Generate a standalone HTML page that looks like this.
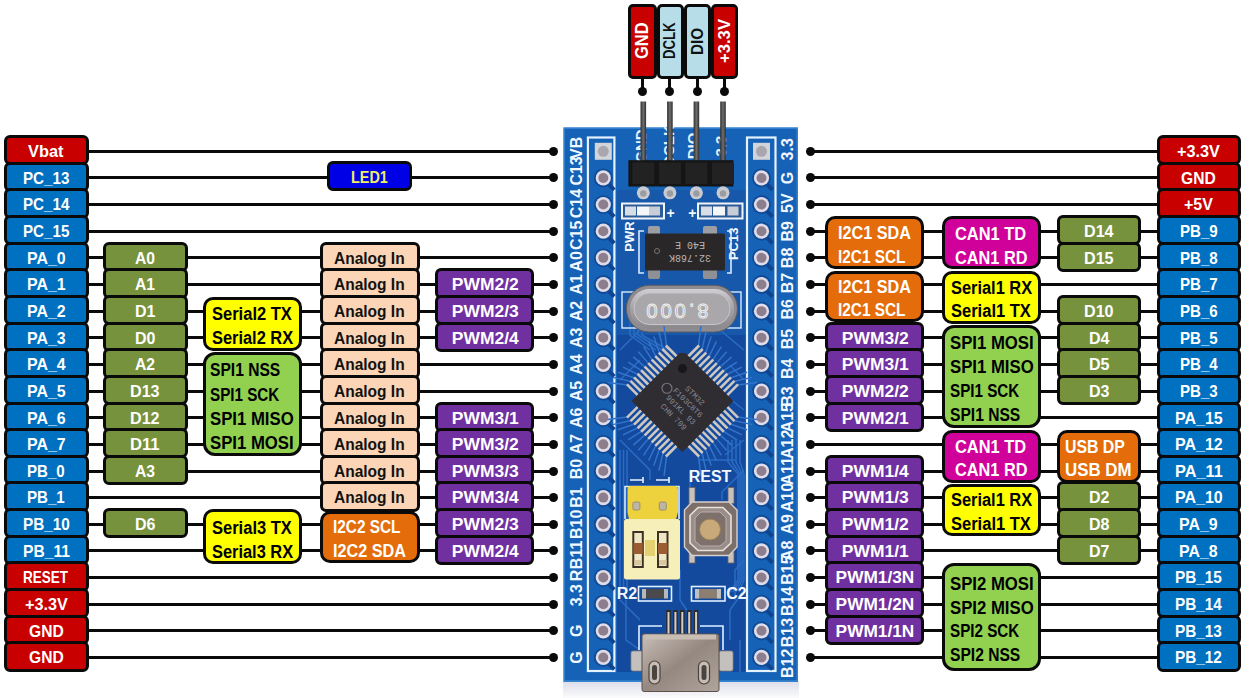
<!DOCTYPE html>
<html><head><meta charset="utf-8">
<style>
html,body{margin:0;padding:0;background:#fff;}
body{width:1249px;height:698px;position:relative;overflow:hidden;font-family:"Liberation Sans",sans-serif;}
.b{position:absolute;box-sizing:border-box;border:3.2px solid #0a0a0a;display:flex;align-items:center;justify-content:center;text-align:center;font-weight:bold;line-height:20px;white-space:nowrap;}
.ln{position:absolute;height:3px;background:#0a0a0a;}
.vln{position:absolute;width:3px;background:#0a0a0a;}
.dot{position:absolute;width:9px;height:9px;border-radius:50%;background:#0a0a0a;}
.ml{text-align:left;}

.board{position:absolute;left:0;top:0;}
.sl{font-family:"Liberation Sans",sans-serif;font-weight:bold;font-size:16px;fill:#F2F8FF;}
.sl2{font-family:"Liberation Sans",sans-serif;font-weight:bold;font-size:15px;fill:#E8F2FC;}
.sl3{font-family:"Liberation Sans",sans-serif;font-weight:bold;font-size:13px;fill:#F2F8FF;}
.sl3b{font-family:"Liberation Sans",sans-serif;font-weight:bold;font-size:14px;fill:#F2F8FF;}
.sl3c{font-family:"Liberation Sans",sans-serif;font-weight:bold;font-size:16px;fill:#F2F8FF;}
.ct{font-family:"Liberation Mono",monospace;font-size:10px;fill:#b8b4b4;}
.xt{font-family:"Liberation Sans",sans-serif;font-size:20px;letter-spacing:3px;fill:none;stroke:#f2f2f2;stroke-width:0.9;}
.mt{font-family:"Liberation Mono",monospace;font-size:8px;fill:#8a8890;}
</style></head><body>
<svg class="board" width="1249" height="698" viewBox="0 0 1249 698"><defs><linearGradient id="pin" x1="0" x2="1"><stop offset="0" stop-color="#2e2e2e"/><stop offset="0.5" stop-color="#6e6e6e"/><stop offset="1" stop-color="#2e2e2e"/></linearGradient><linearGradient id="xt" x1="0" y1="0" x2="0" y2="1"><stop offset="0" stop-color="#d0ced2"/><stop offset="0.5" stop-color="#a4a2a6"/><stop offset="1" stop-color="#8a888c"/></linearGradient><linearGradient id="usb" x1="0" y1="0" x2="1" y2="1"><stop offset="0" stop-color="#C8BEB8"/><stop offset="0.5" stop-color="#958880"/><stop offset="1" stop-color="#B0A49C"/></linearGradient><radialGradient id="hole" cx="0.5" cy="0.5" r="0.5"><stop offset="0" stop-color="#8d8894"/><stop offset="0.62" stop-color="#7f7a88"/><stop offset="0.7" stop-color="#e8eaf0"/><stop offset="0.88" stop-color="#c4c6cc"/><stop offset="1" stop-color="#8da0c0"/></radialGradient><linearGradient id="shd" x1="0" y1="0" x2="0" y2="1"><stop offset="0" stop-color="#dcdde8"/><stop offset="1" stop-color="#fbfbfd"/></linearGradient></defs><rect x="563" y="681" width="236" height="17" fill="url(#shd)"/><rect x="563.5" y="127.5" width="234.5" height="554.3" fill="#1562B6"/><rect x="564.2" y="128.2" width="233" height="552.8" fill="none" stroke="#3A8AD8" stroke-width="1.2"/><rect x="617" y="190" width="129" height="150" fill="#1758AA"/><rect x="617" y="335" width="129" height="337" fill="#134A9E"/><path d="M620 350 L650 320 L700 320" fill="none" stroke="#2A6CC4" stroke-width="1.5"/><path d="M620 380 L640 360" fill="none" stroke="#2A6CC4" stroke-width="1.5"/><path d="M620 440 L650 470 L650 480" fill="none" stroke="#2A6CC4" stroke-width="1.5"/><path d="M744 350 L720 330" fill="none" stroke="#2A6CC4" stroke-width="1.5"/><path d="M744 380 L730 365" fill="none" stroke="#2A6CC4" stroke-width="1.5"/><path d="M744 410 L725 395" fill="none" stroke="#2A6CC4" stroke-width="1.5"/><path d="M744 440 L725 455" fill="none" stroke="#2A6CC4" stroke-width="1.5"/><path d="M744 470 L722 492 L722 500" fill="none" stroke="#2A6CC4" stroke-width="1.5"/><path d="M744 560 L735 570 L735 600" fill="none" stroke="#2A6CC4" stroke-width="1.5"/><path d="M744 590 L730 610 L730 640" fill="none" stroke="#2A6CC4" stroke-width="1.5"/><path d="M620 600 L640 620" fill="none" stroke="#2A6CC4" stroke-width="1.5"/><path d="M690 470 L690 490" fill="none" stroke="#2A6CC4" stroke-width="1.5"/><path d="M700 460 L735 460" fill="none" stroke="#2A6CC4" stroke-width="1.5"/><path d="M626 600 L626 640 L640 650" fill="none" stroke="#2A6CC4" stroke-width="1.5"/><path d="M736 220 L744 212" fill="none" stroke="#2A6CC4" stroke-width="1.5"/><path d="M680 570 L680 600 L690 615" fill="none" stroke="#2A6CC4" stroke-width="1.5"/><path d="M740 640 L740 672" fill="none" stroke="#2A6CC4" stroke-width="1.5"/><path d="M620 480 L620 560" fill="none" stroke="#2A6CC4" stroke-width="1.5"/><path d="M728 440 L728 462 L738 474 L738 580 L730 592" fill="none" stroke="#2A6CC4" stroke-width="1.5"/><path d="M732 440 L732 462 L740 474 L740 580 L733 592" fill="none" stroke="#2A6CC4" stroke-width="1.5"/><path d="M736 440 L736 462 L742 474 L742 580 L736 592" fill="none" stroke="#2A6CC4" stroke-width="1.5"/><path d="M740 440 L740 462 L744 474 L744 580 L739 592" fill="none" stroke="#2A6CC4" stroke-width="1.5"/><path d="M620.0 450 L620.0 590" fill="none" stroke="#2A6CC4" stroke-width="1.5"/><path d="M623.5 450 L623.5 590" fill="none" stroke="#2A6CC4" stroke-width="1.5"/><path d="M627.0 450 L627.0 590" fill="none" stroke="#2A6CC4" stroke-width="1.5"/><path d="M650 350 L630 335 L630 320" fill="none" stroke="#2A6CC4" stroke-width="1.5"/><path d="M656 350 L634 335 L634 320" fill="none" stroke="#2A6CC4" stroke-width="1.5"/><path d="M662 350 L638 335 L638 320" fill="none" stroke="#2A6CC4" stroke-width="1.5"/><path d="M668 350 L642 335 L642 320" fill="none" stroke="#2A6CC4" stroke-width="1.5"/><rect x="587.9" y="137.5" width="26.5" height="533.5" fill="#1562B6" stroke="#E6F2FF" stroke-width="2.2"/><rect x="747" y="137.5" width="28.5" height="533.5" fill="#1562B6" stroke="#E6F2FF" stroke-width="2.2"/><rect x="594.8" y="142.8" width="17" height="17" fill="#D2D4DA"/><circle cx="603.3" cy="151.3" r="5.5" fill="#A9A6B0"/><rect x="753.0" y="142.8" width="17" height="17" fill="#D2D4DA"/><circle cx="761.5" cy="151.3" r="5.5" fill="#A9A6B0"/><path d="M606.3 181.94 L614.3 189.94" stroke="#0F4590" stroke-width="4" fill="none"/><circle cx="603.3" cy="177.94" r="9.4" fill="#0F4A96"/><circle cx="603.3" cy="177.94" r="7.6" fill="#E0DCEA"/><circle cx="603.3" cy="177.94" r="5" fill="#8C7E8C"/><path d="M764.5 181.94 L772.5 189.94" stroke="#0F4590" stroke-width="4" fill="none"/><circle cx="761.5" cy="177.94" r="9.4" fill="#0F4A96"/><circle cx="761.5" cy="177.94" r="7.6" fill="#E0DCEA"/><circle cx="761.5" cy="177.94" r="5" fill="#8C7E8C"/><path d="M606.3 208.58 L614.3 216.58" stroke="#0F4590" stroke-width="4" fill="none"/><circle cx="603.3" cy="204.58" r="9.4" fill="#0F4A96"/><circle cx="603.3" cy="204.58" r="7.6" fill="#E0DCEA"/><circle cx="603.3" cy="204.58" r="5" fill="#8C7E8C"/><path d="M764.5 208.58 L772.5 216.58" stroke="#0F4590" stroke-width="4" fill="none"/><circle cx="761.5" cy="204.58" r="9.4" fill="#0F4A96"/><circle cx="761.5" cy="204.58" r="7.6" fill="#E0DCEA"/><circle cx="761.5" cy="204.58" r="5" fill="#8C7E8C"/><path d="M606.3 235.22000000000003 L614.3 243.22000000000003" stroke="#0F4590" stroke-width="4" fill="none"/><circle cx="603.3" cy="231.22000000000003" r="9.4" fill="#0F4A96"/><circle cx="603.3" cy="231.22000000000003" r="7.6" fill="#E0DCEA"/><circle cx="603.3" cy="231.22000000000003" r="5" fill="#8C7E8C"/><path d="M764.5 235.22000000000003 L772.5 243.22000000000003" stroke="#0F4590" stroke-width="4" fill="none"/><circle cx="761.5" cy="231.22000000000003" r="9.4" fill="#0F4A96"/><circle cx="761.5" cy="231.22000000000003" r="7.6" fill="#E0DCEA"/><circle cx="761.5" cy="231.22000000000003" r="5" fill="#8C7E8C"/><path d="M606.3 261.86 L614.3 269.86" stroke="#0F4590" stroke-width="4" fill="none"/><circle cx="603.3" cy="257.86" r="9.4" fill="#0F4A96"/><circle cx="603.3" cy="257.86" r="7.6" fill="#E0DCEA"/><circle cx="603.3" cy="257.86" r="5" fill="#8C7E8C"/><path d="M764.5 261.86 L772.5 269.86" stroke="#0F4590" stroke-width="4" fill="none"/><circle cx="761.5" cy="257.86" r="9.4" fill="#0F4A96"/><circle cx="761.5" cy="257.86" r="7.6" fill="#E0DCEA"/><circle cx="761.5" cy="257.86" r="5" fill="#8C7E8C"/><path d="M606.3 288.5 L614.3 296.5" stroke="#0F4590" stroke-width="4" fill="none"/><circle cx="603.3" cy="284.5" r="9.4" fill="#0F4A96"/><circle cx="603.3" cy="284.5" r="7.6" fill="#E0DCEA"/><circle cx="603.3" cy="284.5" r="5" fill="#8C7E8C"/><path d="M764.5 288.5 L772.5 296.5" stroke="#0F4590" stroke-width="4" fill="none"/><circle cx="761.5" cy="284.5" r="9.4" fill="#0F4A96"/><circle cx="761.5" cy="284.5" r="7.6" fill="#E0DCEA"/><circle cx="761.5" cy="284.5" r="5" fill="#8C7E8C"/><path d="M606.3 315.14 L614.3 323.14" stroke="#0F4590" stroke-width="4" fill="none"/><circle cx="603.3" cy="311.14" r="9.4" fill="#0F4A96"/><circle cx="603.3" cy="311.14" r="7.6" fill="#E0DCEA"/><circle cx="603.3" cy="311.14" r="5" fill="#8C7E8C"/><path d="M764.5 315.14 L772.5 323.14" stroke="#0F4590" stroke-width="4" fill="none"/><circle cx="761.5" cy="311.14" r="9.4" fill="#0F4A96"/><circle cx="761.5" cy="311.14" r="7.6" fill="#E0DCEA"/><circle cx="761.5" cy="311.14" r="5" fill="#8C7E8C"/><path d="M606.3 341.78000000000003 L614.3 349.78000000000003" stroke="#0F4590" stroke-width="4" fill="none"/><circle cx="603.3" cy="337.78000000000003" r="9.4" fill="#0F4A96"/><circle cx="603.3" cy="337.78000000000003" r="7.6" fill="#E0DCEA"/><circle cx="603.3" cy="337.78000000000003" r="5" fill="#8C7E8C"/><path d="M764.5 341.78000000000003 L772.5 349.78000000000003" stroke="#0F4590" stroke-width="4" fill="none"/><circle cx="761.5" cy="337.78000000000003" r="9.4" fill="#0F4A96"/><circle cx="761.5" cy="337.78000000000003" r="7.6" fill="#E0DCEA"/><circle cx="761.5" cy="337.78000000000003" r="5" fill="#8C7E8C"/><path d="M606.3 368.42 L614.3 376.42" stroke="#0F4590" stroke-width="4" fill="none"/><circle cx="603.3" cy="364.42" r="9.4" fill="#0F4A96"/><circle cx="603.3" cy="364.42" r="7.6" fill="#E0DCEA"/><circle cx="603.3" cy="364.42" r="5" fill="#8C7E8C"/><path d="M764.5 368.42 L772.5 376.42" stroke="#0F4590" stroke-width="4" fill="none"/><circle cx="761.5" cy="364.42" r="9.4" fill="#0F4A96"/><circle cx="761.5" cy="364.42" r="7.6" fill="#E0DCEA"/><circle cx="761.5" cy="364.42" r="5" fill="#8C7E8C"/><path d="M606.3 395.06 L614.3 403.06" stroke="#0F4590" stroke-width="4" fill="none"/><circle cx="603.3" cy="391.06" r="9.4" fill="#0F4A96"/><circle cx="603.3" cy="391.06" r="7.6" fill="#E0DCEA"/><circle cx="603.3" cy="391.06" r="5" fill="#8C7E8C"/><path d="M764.5 395.06 L772.5 403.06" stroke="#0F4590" stroke-width="4" fill="none"/><circle cx="761.5" cy="391.06" r="9.4" fill="#0F4A96"/><circle cx="761.5" cy="391.06" r="7.6" fill="#E0DCEA"/><circle cx="761.5" cy="391.06" r="5" fill="#8C7E8C"/><path d="M606.3 421.7 L614.3 429.7" stroke="#0F4590" stroke-width="4" fill="none"/><circle cx="603.3" cy="417.7" r="9.4" fill="#0F4A96"/><circle cx="603.3" cy="417.7" r="7.6" fill="#E0DCEA"/><circle cx="603.3" cy="417.7" r="5" fill="#8C7E8C"/><path d="M764.5 421.7 L772.5 429.7" stroke="#0F4590" stroke-width="4" fill="none"/><circle cx="761.5" cy="417.7" r="9.4" fill="#0F4A96"/><circle cx="761.5" cy="417.7" r="7.6" fill="#E0DCEA"/><circle cx="761.5" cy="417.7" r="5" fill="#8C7E8C"/><path d="M606.3 448.34000000000003 L614.3 456.34000000000003" stroke="#0F4590" stroke-width="4" fill="none"/><circle cx="603.3" cy="444.34000000000003" r="9.4" fill="#0F4A96"/><circle cx="603.3" cy="444.34000000000003" r="7.6" fill="#E0DCEA"/><circle cx="603.3" cy="444.34000000000003" r="5" fill="#8C7E8C"/><path d="M764.5 448.34000000000003 L772.5 456.34000000000003" stroke="#0F4590" stroke-width="4" fill="none"/><circle cx="761.5" cy="444.34000000000003" r="9.4" fill="#0F4A96"/><circle cx="761.5" cy="444.34000000000003" r="7.6" fill="#E0DCEA"/><circle cx="761.5" cy="444.34000000000003" r="5" fill="#8C7E8C"/><path d="M606.3 474.98 L614.3 482.98" stroke="#0F4590" stroke-width="4" fill="none"/><circle cx="603.3" cy="470.98" r="9.4" fill="#0F4A96"/><circle cx="603.3" cy="470.98" r="7.6" fill="#E0DCEA"/><circle cx="603.3" cy="470.98" r="5" fill="#8C7E8C"/><path d="M764.5 474.98 L772.5 482.98" stroke="#0F4590" stroke-width="4" fill="none"/><circle cx="761.5" cy="470.98" r="9.4" fill="#0F4A96"/><circle cx="761.5" cy="470.98" r="7.6" fill="#E0DCEA"/><circle cx="761.5" cy="470.98" r="5" fill="#8C7E8C"/><path d="M606.3 501.62 L614.3 509.62" stroke="#0F4590" stroke-width="4" fill="none"/><circle cx="603.3" cy="497.62" r="9.4" fill="#0F4A96"/><circle cx="603.3" cy="497.62" r="7.6" fill="#E0DCEA"/><circle cx="603.3" cy="497.62" r="5" fill="#8C7E8C"/><path d="M764.5 501.62 L772.5 509.62" stroke="#0F4590" stroke-width="4" fill="none"/><circle cx="761.5" cy="497.62" r="9.4" fill="#0F4A96"/><circle cx="761.5" cy="497.62" r="7.6" fill="#E0DCEA"/><circle cx="761.5" cy="497.62" r="5" fill="#8C7E8C"/><path d="M606.3 528.26 L614.3 536.26" stroke="#0F4590" stroke-width="4" fill="none"/><circle cx="603.3" cy="524.26" r="9.4" fill="#0F4A96"/><circle cx="603.3" cy="524.26" r="7.6" fill="#E0DCEA"/><circle cx="603.3" cy="524.26" r="5" fill="#8C7E8C"/><path d="M764.5 528.26 L772.5 536.26" stroke="#0F4590" stroke-width="4" fill="none"/><circle cx="761.5" cy="524.26" r="9.4" fill="#0F4A96"/><circle cx="761.5" cy="524.26" r="7.6" fill="#E0DCEA"/><circle cx="761.5" cy="524.26" r="5" fill="#8C7E8C"/><path d="M606.3 554.9000000000001 L614.3 562.9000000000001" stroke="#0F4590" stroke-width="4" fill="none"/><circle cx="603.3" cy="550.9000000000001" r="9.4" fill="#0F4A96"/><circle cx="603.3" cy="550.9000000000001" r="7.6" fill="#E0DCEA"/><circle cx="603.3" cy="550.9000000000001" r="5" fill="#8C7E8C"/><path d="M764.5 554.9000000000001 L772.5 562.9000000000001" stroke="#0F4590" stroke-width="4" fill="none"/><circle cx="761.5" cy="550.9000000000001" r="9.4" fill="#0F4A96"/><circle cx="761.5" cy="550.9000000000001" r="7.6" fill="#E0DCEA"/><circle cx="761.5" cy="550.9000000000001" r="5" fill="#8C7E8C"/><path d="M606.3 581.54 L614.3 589.54" stroke="#0F4590" stroke-width="4" fill="none"/><circle cx="603.3" cy="577.54" r="9.4" fill="#0F4A96"/><circle cx="603.3" cy="577.54" r="7.6" fill="#E0DCEA"/><circle cx="603.3" cy="577.54" r="5" fill="#8C7E8C"/><path d="M764.5 581.54 L772.5 589.54" stroke="#0F4590" stroke-width="4" fill="none"/><circle cx="761.5" cy="577.54" r="9.4" fill="#0F4A96"/><circle cx="761.5" cy="577.54" r="7.6" fill="#E0DCEA"/><circle cx="761.5" cy="577.54" r="5" fill="#8C7E8C"/><path d="M606.3 608.1800000000001 L614.3 616.1800000000001" stroke="#0F4590" stroke-width="4" fill="none"/><circle cx="603.3" cy="604.1800000000001" r="9.4" fill="#0F4A96"/><circle cx="603.3" cy="604.1800000000001" r="7.6" fill="#E0DCEA"/><circle cx="603.3" cy="604.1800000000001" r="5" fill="#8C7E8C"/><path d="M764.5 608.1800000000001 L772.5 616.1800000000001" stroke="#0F4590" stroke-width="4" fill="none"/><circle cx="761.5" cy="604.1800000000001" r="9.4" fill="#0F4A96"/><circle cx="761.5" cy="604.1800000000001" r="7.6" fill="#E0DCEA"/><circle cx="761.5" cy="604.1800000000001" r="5" fill="#8C7E8C"/><path d="M606.3 634.8199999999999 L614.3 642.8199999999999" stroke="#0F4590" stroke-width="4" fill="none"/><circle cx="603.3" cy="630.8199999999999" r="9.4" fill="#0F4A96"/><circle cx="603.3" cy="630.8199999999999" r="7.6" fill="#E0DCEA"/><circle cx="603.3" cy="630.8199999999999" r="5" fill="#8C7E8C"/><path d="M764.5 634.8199999999999 L772.5 642.8199999999999" stroke="#0F4590" stroke-width="4" fill="none"/><circle cx="761.5" cy="630.8199999999999" r="9.4" fill="#0F4A96"/><circle cx="761.5" cy="630.8199999999999" r="7.6" fill="#E0DCEA"/><circle cx="761.5" cy="630.8199999999999" r="5" fill="#8C7E8C"/><path d="M606.3 661.46 L614.3 669.46" stroke="#0F4590" stroke-width="4" fill="none"/><circle cx="603.3" cy="657.46" r="9.4" fill="#0F4A96"/><circle cx="603.3" cy="657.46" r="7.6" fill="#E0DCEA"/><circle cx="603.3" cy="657.46" r="5" fill="#8C7E8C"/><path d="M764.5 661.46 L772.5 669.46" stroke="#0F4590" stroke-width="4" fill="none"/><circle cx="761.5" cy="657.46" r="9.4" fill="#0F4A96"/><circle cx="761.5" cy="657.46" r="7.6" fill="#E0DCEA"/><circle cx="761.5" cy="657.46" r="5" fill="#8C7E8C"/><text x="576.5" y="147.8" transform="rotate(-90 576.5 147.8)" class="sl" text-anchor="middle" dominant-baseline="central">VB</text><text x="787.5" y="149.3" transform="rotate(-90 787.5 149.3)" class="sl" text-anchor="middle" dominant-baseline="central">3.3</text><text x="576.5" y="170.9" transform="rotate(-90 576.5 170.9)" class="sl" text-anchor="middle" dominant-baseline="central">C13</text><text x="787.5" y="177.9" transform="rotate(-90 787.5 177.9)" class="sl" text-anchor="middle" dominant-baseline="central">G</text><text x="576.5" y="203.6" transform="rotate(-90 576.5 203.6)" class="sl" text-anchor="middle" dominant-baseline="central">C14</text><text x="787.5" y="203.1" transform="rotate(-90 787.5 203.1)" class="sl" text-anchor="middle" dominant-baseline="central">5V</text><text x="576.5" y="235.2" transform="rotate(-90 576.5 235.2)" class="sl" text-anchor="middle" dominant-baseline="central">C15</text><text x="787.5" y="231.2" transform="rotate(-90 787.5 231.2)" class="sl" text-anchor="middle" dominant-baseline="central">B9</text><text x="576.5" y="261.4" transform="rotate(-90 576.5 261.4)" class="sl" text-anchor="middle" dominant-baseline="central">A0</text><text x="787.5" y="257.9" transform="rotate(-90 787.5 257.9)" class="sl" text-anchor="middle" dominant-baseline="central">B8</text><text x="576.5" y="284.5" transform="rotate(-90 576.5 284.5)" class="sl" text-anchor="middle" dominant-baseline="central">A1</text><text x="787.5" y="283.0" transform="rotate(-90 787.5 283.0)" class="sl" text-anchor="middle" dominant-baseline="central">B7</text><text x="576.5" y="311.1" transform="rotate(-90 576.5 311.1)" class="sl" text-anchor="middle" dominant-baseline="central">A2</text><text x="787.5" y="309.3" transform="rotate(-90 787.5 309.3)" class="sl" text-anchor="middle" dominant-baseline="central">B6</text><text x="576.5" y="337.8" transform="rotate(-90 576.5 337.8)" class="sl" text-anchor="middle" dominant-baseline="central">A3</text><text x="787.5" y="339.1" transform="rotate(-90 787.5 339.1)" class="sl" text-anchor="middle" dominant-baseline="central">B5</text><text x="576.5" y="364.4" transform="rotate(-90 576.5 364.4)" class="sl" text-anchor="middle" dominant-baseline="central">A4</text><text x="787.5" y="368.7" transform="rotate(-90 787.5 368.7)" class="sl" text-anchor="middle" dominant-baseline="central">B4</text><text x="576.5" y="391.1" transform="rotate(-90 576.5 391.1)" class="sl" text-anchor="middle" dominant-baseline="central">A5</text><text x="787.5" y="396.5" transform="rotate(-90 787.5 396.5)" class="sl" text-anchor="middle" dominant-baseline="central">B3</text><text x="576.5" y="417.7" transform="rotate(-90 576.5 417.7)" class="sl" text-anchor="middle" dominant-baseline="central">A6</text><text x="787.5" y="417.7" transform="rotate(-90 787.5 417.7)" class="sl" text-anchor="middle" dominant-baseline="central">A15</text><text x="576.5" y="444.3" transform="rotate(-90 576.5 444.3)" class="sl" text-anchor="middle" dominant-baseline="central">A7</text><text x="787.5" y="444.3" transform="rotate(-90 787.5 444.3)" class="sl" text-anchor="middle" dominant-baseline="central">A12</text><text x="576.5" y="469.0" transform="rotate(-90 576.5 469.0)" class="sl" text-anchor="middle" dominant-baseline="central">B0</text><text x="787.5" y="471.0" transform="rotate(-90 787.5 471.0)" class="sl" text-anchor="middle" dominant-baseline="central">A11</text><text x="576.5" y="497.6" transform="rotate(-90 576.5 497.6)" class="sl" text-anchor="middle" dominant-baseline="central">B1</text><text x="787.5" y="497.6" transform="rotate(-90 787.5 497.6)" class="sl" text-anchor="middle" dominant-baseline="central">A10</text><text x="576.5" y="524.3" transform="rotate(-90 576.5 524.3)" class="sl" text-anchor="middle" dominant-baseline="central">B10</text><text x="787.5" y="524.3" transform="rotate(-90 787.5 524.3)" class="sl" text-anchor="middle" dominant-baseline="central">A9</text><text x="576.5" y="554.9" transform="rotate(-90 576.5 554.9)" class="sl" text-anchor="middle" dominant-baseline="central">B11</text><text x="787.5" y="550.9" transform="rotate(-90 787.5 550.9)" class="sl" text-anchor="middle" dominant-baseline="central">A8</text><text x="576.5" y="575.5" transform="rotate(-90 576.5 575.5)" class="sl" text-anchor="middle" dominant-baseline="central">R</text><text x="787.5" y="570.0" transform="rotate(-90 787.5 570.0)" class="sl" text-anchor="middle" dominant-baseline="central">B15</text><text x="576.5" y="595.2" transform="rotate(-90 576.5 595.2)" class="sl" text-anchor="middle" dominant-baseline="central">3.3</text><text x="787.5" y="601.2" transform="rotate(-90 787.5 601.2)" class="sl" text-anchor="middle" dominant-baseline="central">B14</text><text x="576.5" y="630.8" transform="rotate(-90 576.5 630.8)" class="sl" text-anchor="middle" dominant-baseline="central">G</text><text x="787.5" y="632.6" transform="rotate(-90 787.5 632.6)" class="sl" text-anchor="middle" dominant-baseline="central">B13</text><text x="576.5" y="657.5" transform="rotate(-90 576.5 657.5)" class="sl" text-anchor="middle" dominant-baseline="central">G</text><text x="787.5" y="663.2" transform="rotate(-90 787.5 663.2)" class="sl" text-anchor="middle" dominant-baseline="central">B12</text><text x="640.5" y="146" transform="rotate(-90 640.5 146)" class="sl2" text-anchor="middle" dominant-baseline="central">GND</text><text x="668" y="146" transform="rotate(-90 668 146)" class="sl2" text-anchor="middle" dominant-baseline="central">DCLK</text><text x="692.5" y="146" transform="rotate(-90 692.5 146)" class="sl2" text-anchor="middle" dominant-baseline="central">DIO</text><text x="720.5" y="146" transform="rotate(-90 720.5 146)" class="sl2" text-anchor="middle" dominant-baseline="central">3.3</text><rect x="640.5" y="101.5" width="5.6" height="62" fill="url(#pin)"/><rect x="667.1" y="101.5" width="5.6" height="62" fill="url(#pin)"/><rect x="693.6" y="101.5" width="5.6" height="62" fill="url(#pin)"/><rect x="720.2" y="101.5" width="5.6" height="62" fill="url(#pin)"/><rect x="628.4" y="160.2" width="105" height="26.3" fill="#151515"/><rect x="632.3" y="162.5" width="22" height="21.5" fill="#222"/><circle cx="643.3" cy="192.8" r="6.5" fill="#C9CBD0"/><circle cx="643.3" cy="193.5" r="3.2" fill="#9a9ca2"/><rect x="658.9" y="162.5" width="22" height="21.5" fill="#222"/><circle cx="669.9" cy="192.8" r="6.5" fill="#C9CBD0"/><circle cx="669.9" cy="193.5" r="3.2" fill="#9a9ca2"/><rect x="685.4" y="162.5" width="22" height="21.5" fill="#222"/><circle cx="696.4" cy="192.8" r="6.5" fill="#C9CBD0"/><circle cx="696.4" cy="193.5" r="3.2" fill="#9a9ca2"/><rect x="712" y="162.5" width="22" height="21.5" fill="#222"/><circle cx="723" cy="192.8" r="6.5" fill="#C9CBD0"/><circle cx="723" cy="193.5" r="3.2" fill="#9a9ca2"/><rect x="622" y="203.5" width="42" height="15" fill="#2C5C98" stroke="#EEF4FA" stroke-width="2"/><rect x="625" y="206.5" width="11" height="9" fill="#D8DEE6"/><rect x="637" y="206.5" width="12" height="9" fill="#F4F6F8"/><rect x="649" y="206.5" width="11" height="9" fill="#C8CED8"/><rect x="698" y="203.5" width="44.5" height="15" fill="#2C5C98" stroke="#EEF4FA" stroke-width="2"/><rect x="701" y="206.5" width="11" height="9" fill="#D8DEE6"/><rect x="713" y="206.5" width="12" height="9" fill="#F4F6F8"/><rect x="727.5" y="206.5" width="11" height="9" fill="#C8CED8"/><text x="670.7" y="212.5" class="sl3b" text-anchor="middle" dominant-baseline="central">+</text><text x="692.3" y="212.5" class="sl3b" text-anchor="middle" dominant-baseline="central">+</text><text x="629" y="236.5" transform="rotate(-90 629 236.5)" class="sl3" text-anchor="middle" dominant-baseline="central">PWR</text><text x="734" y="243.8" transform="rotate(-90 734 243.8)" class="sl3" text-anchor="middle" dominant-baseline="central">PC13</text><path d="M644 231 L639 231 L639 273 L644 273 M727 231 L731 231 L731 273 L727 273" fill="none" stroke="#D8ECFF" stroke-width="1.6"/><rect x="648" y="226" width="12" height="10" rx="2" fill="#9C9EA4"/><rect x="648" y="267" width="12" height="12" rx="2" fill="#8E9096"/><rect x="703" y="226" width="14" height="10" rx="2" fill="#9C9EA4"/><rect x="703" y="267" width="14" height="12" rx="2" fill="#8E9096"/><rect x="645" y="233.5" width="80" height="37" rx="1.5" fill="#2A2729"/><text x="690" y="244" class="ct" text-anchor="middle" dominant-baseline="central" transform="rotate(180 690 244)">E40 E</text><text x="690" y="257" class="ct" text-anchor="middle" dominant-baseline="central" transform="rotate(180 690 257)">32.768K</text><circle cx="657" cy="251" r="2.5" fill="none" stroke="#888" stroke-width="0.8"/><rect x="622" y="292" width="119" height="36" fill="none" stroke="#D8ECFF" stroke-width="1.4"/><rect x="626.4" y="285.3" width="111" height="46.7" rx="23" fill="#8E8C90" stroke="#5e5c60" stroke-width="1"/><rect x="630" y="289" width="104" height="39.5" rx="19.5" fill="url(#xt)"/><rect x="634" y="293" width="96" height="31.5" rx="15.5" fill="#A9A7AA" stroke="#c8c6ca" stroke-width="1"/><text x="676" y="310.5" class="xt" text-anchor="middle" dominant-baseline="central" transform="rotate(180 676 310.5)">8.000</text><g transform="rotate(45 682.5 401)"><line x1="655.0" y1="351.0" x2="642.6" y2="335.0" stroke="#3274CC" stroke-width="1.5"/><line x1="655.0" y1="451.0" x2="642.6" y2="467.0" stroke="#3274CC" stroke-width="1.5"/><line x1="632.5" y1="373.5" x2="616.5" y2="361.1" stroke="#3274CC" stroke-width="1.5"/><line x1="732.5" y1="373.5" x2="748.5" y2="361.1" stroke="#3274CC" stroke-width="1.5"/><line x1="660.0" y1="351.0" x2="649.9" y2="335.0" stroke="#3274CC" stroke-width="1.5"/><line x1="660.0" y1="451.0" x2="649.9" y2="467.0" stroke="#3274CC" stroke-width="1.5"/><line x1="632.5" y1="378.5" x2="616.5" y2="368.4" stroke="#3274CC" stroke-width="1.5"/><line x1="732.5" y1="378.5" x2="748.5" y2="368.4" stroke="#3274CC" stroke-width="1.5"/><line x1="665.0" y1="351.0" x2="657.1" y2="335.0" stroke="#3274CC" stroke-width="1.5"/><line x1="665.0" y1="451.0" x2="657.1" y2="467.0" stroke="#3274CC" stroke-width="1.5"/><line x1="632.5" y1="383.5" x2="616.5" y2="375.6" stroke="#3274CC" stroke-width="1.5"/><line x1="732.5" y1="383.5" x2="748.5" y2="375.6" stroke="#3274CC" stroke-width="1.5"/><line x1="670.0" y1="351.0" x2="664.4" y2="335.0" stroke="#3274CC" stroke-width="1.5"/><line x1="670.0" y1="451.0" x2="664.4" y2="467.0" stroke="#3274CC" stroke-width="1.5"/><line x1="632.5" y1="388.5" x2="616.5" y2="382.9" stroke="#3274CC" stroke-width="1.5"/><line x1="732.5" y1="388.5" x2="748.5" y2="382.9" stroke="#3274CC" stroke-width="1.5"/><line x1="675.0" y1="351.0" x2="671.6" y2="335.0" stroke="#3274CC" stroke-width="1.5"/><line x1="675.0" y1="451.0" x2="671.6" y2="467.0" stroke="#3274CC" stroke-width="1.5"/><line x1="632.5" y1="393.5" x2="616.5" y2="390.1" stroke="#3274CC" stroke-width="1.5"/><line x1="732.5" y1="393.5" x2="748.5" y2="390.1" stroke="#3274CC" stroke-width="1.5"/><line x1="680.0" y1="351.0" x2="678.9" y2="335.0" stroke="#3274CC" stroke-width="1.5"/><line x1="680.0" y1="451.0" x2="678.9" y2="467.0" stroke="#3274CC" stroke-width="1.5"/><line x1="632.5" y1="398.5" x2="616.5" y2="397.4" stroke="#3274CC" stroke-width="1.5"/><line x1="732.5" y1="398.5" x2="748.5" y2="397.4" stroke="#3274CC" stroke-width="1.5"/><line x1="685.0" y1="351.0" x2="686.1" y2="335.0" stroke="#3274CC" stroke-width="1.5"/><line x1="685.0" y1="451.0" x2="686.1" y2="467.0" stroke="#3274CC" stroke-width="1.5"/><line x1="632.5" y1="403.5" x2="616.5" y2="404.6" stroke="#3274CC" stroke-width="1.5"/><line x1="732.5" y1="403.5" x2="748.5" y2="404.6" stroke="#3274CC" stroke-width="1.5"/><line x1="690.0" y1="351.0" x2="693.4" y2="335.0" stroke="#3274CC" stroke-width="1.5"/><line x1="690.0" y1="451.0" x2="693.4" y2="467.0" stroke="#3274CC" stroke-width="1.5"/><line x1="632.5" y1="408.5" x2="616.5" y2="411.9" stroke="#3274CC" stroke-width="1.5"/><line x1="732.5" y1="408.5" x2="748.5" y2="411.9" stroke="#3274CC" stroke-width="1.5"/><line x1="695.0" y1="351.0" x2="700.6" y2="335.0" stroke="#3274CC" stroke-width="1.5"/><line x1="695.0" y1="451.0" x2="700.6" y2="467.0" stroke="#3274CC" stroke-width="1.5"/><line x1="632.5" y1="413.5" x2="616.5" y2="419.1" stroke="#3274CC" stroke-width="1.5"/><line x1="732.5" y1="413.5" x2="748.5" y2="419.1" stroke="#3274CC" stroke-width="1.5"/><line x1="700.0" y1="351.0" x2="707.9" y2="335.0" stroke="#3274CC" stroke-width="1.5"/><line x1="700.0" y1="451.0" x2="707.9" y2="467.0" stroke="#3274CC" stroke-width="1.5"/><line x1="632.5" y1="418.5" x2="616.5" y2="426.4" stroke="#3274CC" stroke-width="1.5"/><line x1="732.5" y1="418.5" x2="748.5" y2="426.4" stroke="#3274CC" stroke-width="1.5"/><line x1="705.0" y1="351.0" x2="715.1" y2="335.0" stroke="#3274CC" stroke-width="1.5"/><line x1="705.0" y1="451.0" x2="715.1" y2="467.0" stroke="#3274CC" stroke-width="1.5"/><line x1="632.5" y1="423.5" x2="616.5" y2="433.6" stroke="#3274CC" stroke-width="1.5"/><line x1="732.5" y1="423.5" x2="748.5" y2="433.6" stroke="#3274CC" stroke-width="1.5"/><line x1="710.0" y1="351.0" x2="722.4" y2="335.0" stroke="#3274CC" stroke-width="1.5"/><line x1="710.0" y1="451.0" x2="722.4" y2="467.0" stroke="#3274CC" stroke-width="1.5"/><line x1="632.5" y1="428.5" x2="616.5" y2="440.9" stroke="#3274CC" stroke-width="1.5"/><line x1="732.5" y1="428.5" x2="748.5" y2="440.9" stroke="#3274CC" stroke-width="1.5"/><rect x="653.7" y="350" width="2.6" height="18" fill="#CFC8C0"/><rect x="653.7" y="434" width="2.6" height="18" fill="#CFC8C0"/><rect x="631.5" y="372.2" width="18" height="2.6" fill="#CFC8C0"/><rect x="715.5" y="372.2" width="18" height="2.6" fill="#CFC8C0"/><rect x="658.7" y="350" width="2.6" height="18" fill="#CFC8C0"/><rect x="658.7" y="434" width="2.6" height="18" fill="#CFC8C0"/><rect x="631.5" y="377.2" width="18" height="2.6" fill="#CFC8C0"/><rect x="715.5" y="377.2" width="18" height="2.6" fill="#CFC8C0"/><rect x="663.7" y="350" width="2.6" height="18" fill="#CFC8C0"/><rect x="663.7" y="434" width="2.6" height="18" fill="#CFC8C0"/><rect x="631.5" y="382.2" width="18" height="2.6" fill="#CFC8C0"/><rect x="715.5" y="382.2" width="18" height="2.6" fill="#CFC8C0"/><rect x="668.7" y="350" width="2.6" height="18" fill="#CFC8C0"/><rect x="668.7" y="434" width="2.6" height="18" fill="#CFC8C0"/><rect x="631.5" y="387.2" width="18" height="2.6" fill="#CFC8C0"/><rect x="715.5" y="387.2" width="18" height="2.6" fill="#CFC8C0"/><rect x="673.7" y="350" width="2.6" height="18" fill="#CFC8C0"/><rect x="673.7" y="434" width="2.6" height="18" fill="#CFC8C0"/><rect x="631.5" y="392.2" width="18" height="2.6" fill="#CFC8C0"/><rect x="715.5" y="392.2" width="18" height="2.6" fill="#CFC8C0"/><rect x="678.7" y="350" width="2.6" height="18" fill="#CFC8C0"/><rect x="678.7" y="434" width="2.6" height="18" fill="#CFC8C0"/><rect x="631.5" y="397.2" width="18" height="2.6" fill="#CFC8C0"/><rect x="715.5" y="397.2" width="18" height="2.6" fill="#CFC8C0"/><rect x="683.7" y="350" width="2.6" height="18" fill="#CFC8C0"/><rect x="683.7" y="434" width="2.6" height="18" fill="#CFC8C0"/><rect x="631.5" y="402.2" width="18" height="2.6" fill="#CFC8C0"/><rect x="715.5" y="402.2" width="18" height="2.6" fill="#CFC8C0"/><rect x="688.7" y="350" width="2.6" height="18" fill="#CFC8C0"/><rect x="688.7" y="434" width="2.6" height="18" fill="#CFC8C0"/><rect x="631.5" y="407.2" width="18" height="2.6" fill="#CFC8C0"/><rect x="715.5" y="407.2" width="18" height="2.6" fill="#CFC8C0"/><rect x="693.7" y="350" width="2.6" height="18" fill="#CFC8C0"/><rect x="693.7" y="434" width="2.6" height="18" fill="#CFC8C0"/><rect x="631.5" y="412.2" width="18" height="2.6" fill="#CFC8C0"/><rect x="715.5" y="412.2" width="18" height="2.6" fill="#CFC8C0"/><rect x="698.7" y="350" width="2.6" height="18" fill="#CFC8C0"/><rect x="698.7" y="434" width="2.6" height="18" fill="#CFC8C0"/><rect x="631.5" y="417.2" width="18" height="2.6" fill="#CFC8C0"/><rect x="715.5" y="417.2" width="18" height="2.6" fill="#CFC8C0"/><rect x="703.7" y="350" width="2.6" height="18" fill="#CFC8C0"/><rect x="703.7" y="434" width="2.6" height="18" fill="#CFC8C0"/><rect x="631.5" y="422.2" width="18" height="2.6" fill="#CFC8C0"/><rect x="715.5" y="422.2" width="18" height="2.6" fill="#CFC8C0"/><rect x="708.7" y="350" width="2.6" height="18" fill="#CFC8C0"/><rect x="708.7" y="434" width="2.6" height="18" fill="#CFC8C0"/><rect x="631.5" y="427.2" width="18" height="2.6" fill="#CFC8C0"/><rect x="715.5" y="427.2" width="18" height="2.6" fill="#CFC8C0"/><path d="M650.5 365 L718.5 365 L718.5 437 L646.5 437 L646.5 369 Z" fill="#2F2D32"/><circle cx="659.5" cy="378" r="4.5" fill="#18171a"/><circle cx="662.5" cy="403" r="5" fill="none" stroke="#77737c" stroke-width="1.2"/><text x="687.5" y="391" class="mt" text-anchor="middle">STM32</text><text x="687.5" y="401" class="mt" text-anchor="middle">F103C8T6</text><text x="687.5" y="411" class="mt" text-anchor="middle">991KL 93</text><text x="687.5" y="421" class="mt" text-anchor="middle">CHN 709</text></g><text x="710" y="476.5" class="sl3c" text-anchor="middle" dominant-baseline="central">REST</text><rect x="689" y="487.5" width="6" height="16" fill="#C8C2BE" stroke="#6a625e" stroke-width="0.8"/><rect x="689" y="552" width="6" height="11" fill="#C8C2BE" stroke="#6a625e" stroke-width="0.8"/><rect x="728" y="487.5" width="6" height="16" fill="#C8C2BE" stroke="#6a625e" stroke-width="0.8"/><rect x="728" y="552" width="6" height="11" fill="#C8C2BE" stroke="#6a625e" stroke-width="0.8"/><polygon points="692,502 729,502 737,510 737,547 729,555.5 692,555.5 684.5,547 684.5,510" fill="#7C6E68" stroke="#D8D0CC" stroke-width="1.4"/><polygon points="698,507.5 723,507.5 731,515.5 731,543 723,550.5 698,550.5 690,543 690,515.5" fill="#9A8C86" stroke="#E8E2DE" stroke-width="1.6"/><polygon points="701,512 720,512 726,518 726,541 720,546 701,546 695,541 695,518" fill="#7E706A" stroke="#B8AEA8" stroke-width="1"/><circle cx="710" cy="529.5" r="10.5" fill="#C8AA7A" stroke="#9a8058" stroke-width="1"/><path d="M630 480 L643 480 M643 477 L643 483" fill="none" stroke="#EAF4FF" stroke-width="1.6"/><path d="M656 480 L669 480 M669 477 L669 483" fill="none" stroke="#EAF4FF" stroke-width="1.6"/><path d="M625 519 L625 486.5 L679 486.5 L679 519" fill="none" stroke="#DDEEFF" stroke-width="1.6"/><path d="M630 486 L675 486 Q678 486 678 490 L678 512 L676 519.5 L629 519.5 L627.5 512 L627.5 490 Q627.5 486 630 486 Z" fill="#EDD23E"/><rect x="624" y="519" width="56" height="60.5" rx="2.5" fill="#F6EFBA"/><rect x="645" y="540" width="10" height="16" fill="#E4D070"/><rect x="632.9" y="502" width="7" height="8" rx="1.5" fill="#BDB6A6" stroke="#8A826C" stroke-width="0.8"/><rect x="659.3" y="502" width="7" height="8" rx="1.5" fill="#BDB6A6" stroke="#8A826C" stroke-width="0.8"/><rect x="632.3" y="531" width="11.5" height="37" fill="#3E3226"/><rect x="634.3" y="533" width="7.5" height="33" fill="#EFE6C6"/><rect x="633.3" y="543" width="9.5" height="11" fill="#9A5C30"/><rect x="634.3" y="560" width="7.5" height="5" fill="#D8C8A0"/><rect x="657" y="531" width="11.5" height="37" fill="#3E3226"/><rect x="659" y="533" width="7.5" height="33" fill="#EFE6C6"/><rect x="658" y="543" width="9.5" height="11" fill="#9A5C30"/><rect x="659" y="560" width="7.5" height="5" fill="#D8C8A0"/><text x="627" y="593.5" class="sl3c" text-anchor="middle" dominant-baseline="central">R2</text><rect x="638.5" y="586.5" width="33" height="14.5" fill="none" stroke="#E0F0FF" stroke-width="1.6"/><rect x="642" y="589" width="26" height="9.5" fill="#4a4a4c"/><rect x="642" y="589" width="4" height="9.5" fill="#B8B8B8"/><rect x="664" y="589" width="4" height="9.5" fill="#B8B8B8"/><rect x="691.5" y="586.5" width="33.5" height="14.5" fill="none" stroke="#E0F0FF" stroke-width="1.6"/><rect x="695" y="589" width="26" height="9.5" fill="#8C7E70"/><rect x="695" y="589" width="4" height="9.5" fill="#C0C0C0"/><rect x="717" y="589" width="4" height="9.5" fill="#C0C0C0"/><text x="736.5" y="593.5" class="sl3c" text-anchor="middle" dominant-baseline="central">C2</text><path d="M639 650 L639 626 L662 626" fill="none" stroke="#E0F0FF" stroke-width="1.6"/><path d="M700 626 L723 626 L723 650" fill="none" stroke="#E0F0FF" stroke-width="1.6"/><rect x="666.2" y="610" width="4.6" height="25" fill="#2E2A28"/><rect x="667.5" y="612" width="2" height="22" fill="#D4CCC6"/><rect x="673.1" y="610" width="4.6" height="25" fill="#2E2A28"/><rect x="674.4" y="612" width="2" height="22" fill="#D4CCC6"/><rect x="680.0" y="610" width="4.6" height="25" fill="#2E2A28"/><rect x="681.3" y="612" width="2" height="22" fill="#D4CCC6"/><rect x="686.9" y="610" width="4.6" height="25" fill="#2E2A28"/><rect x="688.2" y="612" width="2" height="22" fill="#D4CCC6"/><rect x="693.8" y="610" width="4.6" height="25" fill="#2E2A28"/><rect x="695.1" y="612" width="2" height="22" fill="#D4CCC6"/><rect x="631" y="651" width="12" height="20" rx="2" fill="#C4C0BE" stroke="#8a8684" stroke-width="0.8"/><rect x="719" y="651" width="14" height="20" rx="2" fill="#C4C0BE" stroke="#8a8684" stroke-width="0.8"/><rect x="642" y="634" width="77" height="57.5" rx="2" fill="url(#usb)" stroke="#5a524c" stroke-width="1"/><rect x="645" y="634.5" width="71" height="5" fill="#C8BEB4"/><rect x="649" y="661" width="11" height="23" rx="5.5" fill="#C6BEB4" stroke="#4a4440" stroke-width="1.2"/><rect x="698.5" y="661" width="11" height="23" rx="5.5" fill="#C6BEB4" stroke="#4a4440" stroke-width="1.2"/><rect x="652" y="665" width="5" height="15" rx="2.5" fill="#4a4440"/><rect x="701.5" y="665" width="5" height="15" rx="2.5" fill="#4a4440"/></svg>
<div class="ln" style="left:88px;top:149.8px;width:465px"></div><div class="dot" style="left:549.0px;top:146.8px"></div><div class="ln" style="left:810px;top:149.8px;width:347px"></div><div class="dot" style="left:805.5px;top:146.8px"></div><div class="ln" style="left:88px;top:176.4px;width:465px"></div><div class="dot" style="left:549.0px;top:173.4px"></div><div class="ln" style="left:810px;top:176.4px;width:347px"></div><div class="dot" style="left:805.5px;top:173.4px"></div><div class="ln" style="left:88px;top:203.1px;width:465px"></div><div class="dot" style="left:549.0px;top:200.1px"></div><div class="ln" style="left:810px;top:203.1px;width:347px"></div><div class="dot" style="left:805.5px;top:200.1px"></div><div class="ln" style="left:88px;top:229.7px;width:465px"></div><div class="dot" style="left:549.0px;top:226.7px"></div><div class="ln" style="left:810px;top:229.7px;width:347px"></div><div class="dot" style="left:805.5px;top:226.7px"></div><div class="ln" style="left:88px;top:256.4px;width:465px"></div><div class="dot" style="left:549.0px;top:253.4px"></div><div class="ln" style="left:810px;top:256.4px;width:347px"></div><div class="dot" style="left:805.5px;top:253.4px"></div><div class="ln" style="left:88px;top:283.0px;width:465px"></div><div class="dot" style="left:549.0px;top:280.0px"></div><div class="ln" style="left:810px;top:283.0px;width:347px"></div><div class="dot" style="left:805.5px;top:280.0px"></div><div class="ln" style="left:88px;top:309.6px;width:465px"></div><div class="dot" style="left:549.0px;top:306.6px"></div><div class="ln" style="left:810px;top:309.6px;width:347px"></div><div class="dot" style="left:805.5px;top:306.6px"></div><div class="ln" style="left:88px;top:336.3px;width:465px"></div><div class="dot" style="left:549.0px;top:333.3px"></div><div class="ln" style="left:810px;top:336.3px;width:347px"></div><div class="dot" style="left:805.5px;top:333.3px"></div><div class="ln" style="left:88px;top:362.9px;width:465px"></div><div class="dot" style="left:549.0px;top:359.9px"></div><div class="ln" style="left:810px;top:362.9px;width:347px"></div><div class="dot" style="left:805.5px;top:359.9px"></div><div class="ln" style="left:88px;top:389.6px;width:465px"></div><div class="dot" style="left:549.0px;top:386.6px"></div><div class="ln" style="left:810px;top:389.6px;width:347px"></div><div class="dot" style="left:805.5px;top:386.6px"></div><div class="ln" style="left:88px;top:416.2px;width:465px"></div><div class="dot" style="left:549.0px;top:413.2px"></div><div class="ln" style="left:810px;top:416.2px;width:347px"></div><div class="dot" style="left:805.5px;top:413.2px"></div><div class="ln" style="left:88px;top:442.8px;width:465px"></div><div class="dot" style="left:549.0px;top:439.8px"></div><div class="ln" style="left:810px;top:442.8px;width:347px"></div><div class="dot" style="left:805.5px;top:439.8px"></div><div class="ln" style="left:88px;top:469.5px;width:465px"></div><div class="dot" style="left:549.0px;top:466.5px"></div><div class="ln" style="left:810px;top:469.5px;width:347px"></div><div class="dot" style="left:805.5px;top:466.5px"></div><div class="ln" style="left:88px;top:496.1px;width:465px"></div><div class="dot" style="left:549.0px;top:493.1px"></div><div class="ln" style="left:810px;top:496.1px;width:347px"></div><div class="dot" style="left:805.5px;top:493.1px"></div><div class="ln" style="left:88px;top:522.8px;width:465px"></div><div class="dot" style="left:549.0px;top:519.8px"></div><div class="ln" style="left:810px;top:522.8px;width:347px"></div><div class="dot" style="left:805.5px;top:519.8px"></div><div class="ln" style="left:88px;top:549.4px;width:465px"></div><div class="dot" style="left:549.0px;top:546.4px"></div><div class="ln" style="left:810px;top:549.4px;width:347px"></div><div class="dot" style="left:805.5px;top:546.4px"></div><div class="ln" style="left:88px;top:576.0px;width:465px"></div><div class="dot" style="left:549.0px;top:573.0px"></div><div class="ln" style="left:810px;top:576.0px;width:347px"></div><div class="dot" style="left:805.5px;top:573.0px"></div><div class="ln" style="left:88px;top:602.7px;width:465px"></div><div class="dot" style="left:549.0px;top:599.7px"></div><div class="ln" style="left:810px;top:602.7px;width:347px"></div><div class="dot" style="left:805.5px;top:599.7px"></div><div class="ln" style="left:88px;top:629.3px;width:465px"></div><div class="dot" style="left:549.0px;top:626.3px"></div><div class="ln" style="left:810px;top:629.3px;width:347px"></div><div class="dot" style="left:805.5px;top:626.3px"></div><div class="ln" style="left:88px;top:656.0px;width:465px"></div><div class="dot" style="left:549.0px;top:653.0px"></div><div class="ln" style="left:810px;top:656.0px;width:347px"></div><div class="dot" style="left:805.5px;top:653.0px"></div>
<div class="b" style="left:628px;top:4px;width:28.5px;height:74.5px;background:#C80000;border-radius:5px"></div><div class="vt" style="position:absolute;left:602.0px;top:31.3px;width:80px;height:20px;line-height:20px;text-align:center;transform:rotate(-90deg);color:#fff;font-weight:bold;font-size:17.9px;white-space:nowrap"><span style="display:inline-block;transform:scaleX(0.922);transform-origin:0 50%;width:36.59px">GND</span></div><div class="b" style="left:656.5px;top:4px;width:27.0px;height:74.5px;background:#B7DEE8;border-radius:5px"></div><div class="vt" style="position:absolute;left:629.0px;top:31.3px;width:80px;height:20px;line-height:20px;text-align:center;transform:rotate(-90deg);color:#111;font-weight:bold;font-size:16.2px;white-space:nowrap"><span style="display:inline-block;transform:scaleX(0.815);transform-origin:0 50%;width:36.62px">DCLK</span></div><div class="b" style="left:683.5px;top:4px;width:27.0px;height:74.5px;background:#B7DEE8;border-radius:5px"></div><div class="vt" style="position:absolute;left:657.0px;top:31.3px;width:80px;height:20px;line-height:20px;text-align:center;transform:rotate(-90deg);color:#111;font-weight:bold;font-size:16.2px;white-space:nowrap"><span style="display:inline-block;transform:scaleX(0.941);transform-origin:0 50%;width:27.06px">DIO</span></div><div class="b" style="left:710.5px;top:4px;width:27.5px;height:74.5px;background:#C80000;border-radius:5px"></div><div class="vt" style="position:absolute;left:684.2px;top:31.3px;width:80px;height:20px;line-height:20px;text-align:center;transform:rotate(-90deg);color:#fff;font-weight:bold;font-size:17.4px;white-space:nowrap"><span style="display:inline-block;transform:scaleX(0.958);transform-origin:0 50%;width:44.01px">+3.3V</span></div><div class="vln" style="left:641.0px;top:76px;height:15px"></div><div class="dot" style="left:638.0px;top:86.5px"></div><div class="vln" style="left:668.0px;top:76px;height:15px"></div><div class="dot" style="left:665.0px;top:86.5px"></div><div class="vln" style="left:695.5px;top:76px;height:15px"></div><div class="dot" style="left:692.5px;top:86.5px"></div><div class="vln" style="left:722.5px;top:76px;height:15px"></div><div class="dot" style="left:719.5px;top:86.5px"></div>
<div class="b " style="left:3.5px;top:135.1px;width:85.0px;height:30.4px;background:#C80000;color:#fff;border-radius:6px;font-size:17px;padding-top:3.7px;"><span style="display:inline-block;transform:scaleX(0.962);transform-origin:0 50%;width:35.44px">Vbat</span></div><div class="b " style="left:3.5px;top:161.7px;width:85.0px;height:30.4px;background:#0070C0;color:#fff;border-radius:6px;font-size:17px;padding-top:3.7px;"><span style="display:inline-block;transform:scaleX(0.891);transform-origin:0 50%;width:46.31px">PC_13</span></div><div class="b " style="left:3.5px;top:188.4px;width:85.0px;height:30.4px;background:#0070C0;color:#fff;border-radius:6px;font-size:17px;padding-top:3.7px;"><span style="display:inline-block;transform:scaleX(0.891);transform-origin:0 50%;width:46.31px">PC_14</span></div><div class="b " style="left:3.5px;top:215.0px;width:85.0px;height:30.4px;background:#0070C0;color:#fff;border-radius:6px;font-size:17px;padding-top:3.7px;"><span style="display:inline-block;transform:scaleX(0.891);transform-origin:0 50%;width:46.31px">PC_15</span></div><div class="b " style="left:3.5px;top:241.7px;width:85.0px;height:30.4px;background:#0070C0;color:#fff;border-radius:6px;font-size:17px;padding-top:3.7px;"><span style="display:inline-block;transform:scaleX(0.935);transform-origin:0 50%;width:38.57px">PA_0</span></div><div class="b " style="left:3.5px;top:268.3px;width:85.0px;height:30.4px;background:#0070C0;color:#fff;border-radius:6px;font-size:17px;padding-top:3.7px;"><span style="display:inline-block;transform:scaleX(0.935);transform-origin:0 50%;width:38.57px">PA_1</span></div><div class="b " style="left:3.5px;top:294.9px;width:85.0px;height:30.4px;background:#0070C0;color:#fff;border-radius:6px;font-size:17px;padding-top:3.7px;"><span style="display:inline-block;transform:scaleX(0.935);transform-origin:0 50%;width:38.57px">PA_2</span></div><div class="b " style="left:3.5px;top:321.6px;width:85.0px;height:30.4px;background:#0070C0;color:#fff;border-radius:6px;font-size:17px;padding-top:3.7px;"><span style="display:inline-block;transform:scaleX(0.935);transform-origin:0 50%;width:38.57px">PA_3</span></div><div class="b " style="left:3.5px;top:348.2px;width:85.0px;height:30.4px;background:#0070C0;color:#fff;border-radius:6px;font-size:17px;padding-top:3.7px;"><span style="display:inline-block;transform:scaleX(0.935);transform-origin:0 50%;width:38.57px">PA_4</span></div><div class="b " style="left:3.5px;top:374.9px;width:85.0px;height:30.4px;background:#0070C0;color:#fff;border-radius:6px;font-size:17px;padding-top:3.7px;"><span style="display:inline-block;transform:scaleX(0.935);transform-origin:0 50%;width:38.57px">PA_5</span></div><div class="b " style="left:3.5px;top:401.5px;width:85.0px;height:30.4px;background:#0070C0;color:#fff;border-radius:6px;font-size:17px;padding-top:3.7px;"><span style="display:inline-block;transform:scaleX(0.935);transform-origin:0 50%;width:38.57px">PA_6</span></div><div class="b " style="left:3.5px;top:428.1px;width:85.0px;height:30.4px;background:#0070C0;color:#fff;border-radius:6px;font-size:17px;padding-top:3.7px;"><span style="display:inline-block;transform:scaleX(0.935);transform-origin:0 50%;width:38.57px">PA_7</span></div><div class="b " style="left:3.5px;top:454.8px;width:85.0px;height:30.4px;background:#0070C0;color:#fff;border-radius:6px;font-size:17px;padding-top:3.7px;"><span style="display:inline-block;transform:scaleX(0.888);transform-origin:0 50%;width:37.76px">PB_0</span></div><div class="b " style="left:3.5px;top:481.4px;width:85.0px;height:30.4px;background:#0070C0;color:#fff;border-radius:6px;font-size:17px;padding-top:3.7px;"><span style="display:inline-block;transform:scaleX(0.888);transform-origin:0 50%;width:37.76px">PB_1</span></div><div class="b " style="left:3.5px;top:508.1px;width:85.0px;height:30.4px;background:#0070C0;color:#fff;border-radius:6px;font-size:17px;padding-top:3.7px;"><span style="display:inline-block;transform:scaleX(0.902);transform-origin:0 50%;width:46.89px">PB_10</span></div><div class="b " style="left:3.5px;top:534.7px;width:85.0px;height:30.4px;background:#0070C0;color:#fff;border-radius:6px;font-size:17px;padding-top:3.7px;"><span style="display:inline-block;transform:scaleX(0.919);transform-origin:0 50%;width:46.89px">PB_11</span></div><div class="b " style="left:3.5px;top:561.3px;width:85.0px;height:30.4px;background:#C80000;color:#fff;border-radius:6px;font-size:17px;padding-top:3.7px;"><span style="display:inline-block;transform:scaleX(0.796);transform-origin:0 50%;width:45.13px">RESET</span></div><div class="b " style="left:3.5px;top:588.0px;width:85.0px;height:30.4px;background:#C80000;color:#fff;border-radius:6px;font-size:17px;padding-top:3.7px;"><span style="display:inline-block;transform:scaleX(0.954);transform-origin:0 50%;width:42.82px">+3.3V</span></div><div class="b " style="left:3.5px;top:614.6px;width:85.0px;height:30.4px;background:#C80000;color:#fff;border-radius:6px;font-size:17px;padding-top:3.7px;"><span style="display:inline-block;transform:scaleX(0.918);transform-origin:0 50%;width:34.67px">GND</span></div><div class="b " style="left:3.5px;top:641.3px;width:85.0px;height:30.4px;background:#C80000;color:#fff;border-radius:6px;font-size:17px;padding-top:3.7px;"><span style="display:inline-block;transform:scaleX(0.918);transform-origin:0 50%;width:34.67px">GND</span></div><div class="b " style="left:103.0px;top:241.7px;width:84.5px;height:30.4px;background:#76923C;color:#fff;border-radius:6px;font-size:17px;padding-top:3.7px;"><span style="display:inline-block;transform:scaleX(0.922);transform-origin:0 50%;width:20.03px">A0</span></div><div class="b " style="left:103.0px;top:268.3px;width:84.5px;height:30.4px;background:#76923C;color:#fff;border-radius:6px;font-size:17px;padding-top:3.7px;"><span style="display:inline-block;transform:scaleX(0.922);transform-origin:0 50%;width:20.03px">A1</span></div><div class="b " style="left:103.0px;top:294.9px;width:84.5px;height:30.4px;background:#76923C;color:#fff;border-radius:6px;font-size:17px;padding-top:3.7px;"><span style="display:inline-block;transform:scaleX(0.942);transform-origin:0 50%;width:20.47px">D1</span></div><div class="b " style="left:103.0px;top:321.6px;width:84.5px;height:30.4px;background:#76923C;color:#fff;border-radius:6px;font-size:17px;padding-top:3.7px;"><span style="display:inline-block;transform:scaleX(0.942);transform-origin:0 50%;width:20.47px">D0</span></div><div class="b " style="left:103.0px;top:348.2px;width:84.5px;height:30.4px;background:#76923C;color:#fff;border-radius:6px;font-size:17px;padding-top:3.7px;"><span style="display:inline-block;transform:scaleX(0.922);transform-origin:0 50%;width:20.03px">A2</span></div><div class="b " style="left:103.0px;top:374.9px;width:84.5px;height:30.4px;background:#76923C;color:#fff;border-radius:6px;font-size:17px;padding-top:3.7px;"><span style="display:inline-block;transform:scaleX(0.949);transform-origin:0 50%;width:29.59px">D13</span></div><div class="b " style="left:103.0px;top:401.5px;width:84.5px;height:30.4px;background:#76923C;color:#fff;border-radius:6px;font-size:17px;padding-top:3.7px;"><span style="display:inline-block;transform:scaleX(0.949);transform-origin:0 50%;width:29.59px">D12</span></div><div class="b " style="left:103.0px;top:428.1px;width:84.5px;height:30.4px;background:#76923C;color:#fff;border-radius:6px;font-size:17px;padding-top:3.7px;"><span style="display:inline-block;transform:scaleX(0.978);transform-origin:0 50%;width:29.59px">D11</span></div><div class="b " style="left:103.0px;top:454.8px;width:84.5px;height:30.4px;background:#76923C;color:#fff;border-radius:6px;font-size:17px;padding-top:3.7px;"><span style="display:inline-block;transform:scaleX(0.922);transform-origin:0 50%;width:20.03px">A3</span></div><div class="b " style="left:103.0px;top:508.1px;width:84.5px;height:30.4px;background:#76923C;color:#fff;border-radius:6px;font-size:17px;padding-top:3.7px;"><span style="display:inline-block;transform:scaleX(0.942);transform-origin:0 50%;width:20.47px">D6</span></div><div class="b " style="left:203.0px;top:296.5px;width:98.5px;height:54.5px;background:#FFFF00;color:#000;border-radius:10px;font-size:18.3px;padding-top:3.6px;"><div class="ml" style="line-height:23.7px"><span style="display:inline-block;transform:scaleX(0.903);transform-origin:0 50%;width:79.87px">Serial2 TX</span><br><span style="display:inline-block;transform:scaleX(0.897);transform-origin:0 50%;width:81.20px">Serial2 RX</span></div></div><div class="b " style="left:203.0px;top:352.0px;width:98.5px;height:103.5px;background:#92D050;color:#000;border-radius:12px;font-size:18.3px;padding-top:6px;"><div class="ml" style="line-height:24.2px"><span style="display:inline-block;transform:scaleX(0.854);transform-origin:0 50%;width:70.39px">SPI1 NSS</span><br><span style="display:inline-block;transform:scaleX(0.831);transform-origin:0 50%;width:69.30px">SPI1 SCK</span><br><span style="display:inline-block;transform:scaleX(0.915);transform-origin:0 50%;width:83.75px">SPI1 MISO</span><br><span style="display:inline-block;transform:scaleX(0.915);transform-origin:0 50%;width:83.75px">SPI1 MOSI</span></div></div><div class="b " style="left:203.0px;top:509.0px;width:98.5px;height:54.6px;background:#FFFF00;color:#000;border-radius:10px;font-size:18.3px;padding-top:7px;"><div class="ml" style="line-height:23.7px"><span style="display:inline-block;transform:scaleX(0.903);transform-origin:0 50%;width:79.87px">Serial3 TX</span><br><span style="display:inline-block;transform:scaleX(0.897);transform-origin:0 50%;width:81.20px">Serial3 RX</span></div></div><div class="b " style="left:319.5px;top:241.7px;width:100.0px;height:30.4px;background:#FBD5B5;color:#111;border-radius:6px;font-size:17px;padding-top:3.7px;"><span style="display:inline-block;transform:scaleX(0.912);transform-origin:0 50%;width:70.65px">Analog In</span></div><div class="b " style="left:319.5px;top:268.3px;width:100.0px;height:30.4px;background:#FBD5B5;color:#111;border-radius:6px;font-size:17px;padding-top:3.7px;"><span style="display:inline-block;transform:scaleX(0.912);transform-origin:0 50%;width:70.65px">Analog In</span></div><div class="b " style="left:319.5px;top:294.9px;width:100.0px;height:30.4px;background:#FBD5B5;color:#111;border-radius:6px;font-size:17px;padding-top:3.7px;"><span style="display:inline-block;transform:scaleX(0.912);transform-origin:0 50%;width:70.65px">Analog In</span></div><div class="b " style="left:319.5px;top:321.6px;width:100.0px;height:30.4px;background:#FBD5B5;color:#111;border-radius:6px;font-size:17px;padding-top:3.7px;"><span style="display:inline-block;transform:scaleX(0.912);transform-origin:0 50%;width:70.65px">Analog In</span></div><div class="b " style="left:319.5px;top:348.2px;width:100.0px;height:30.4px;background:#FBD5B5;color:#111;border-radius:6px;font-size:17px;padding-top:3.7px;"><span style="display:inline-block;transform:scaleX(0.912);transform-origin:0 50%;width:70.65px">Analog In</span></div><div class="b " style="left:319.5px;top:374.9px;width:100.0px;height:30.4px;background:#FBD5B5;color:#111;border-radius:6px;font-size:17px;padding-top:3.7px;"><span style="display:inline-block;transform:scaleX(0.912);transform-origin:0 50%;width:70.65px">Analog In</span></div><div class="b " style="left:319.5px;top:401.5px;width:100.0px;height:30.4px;background:#FBD5B5;color:#111;border-radius:6px;font-size:17px;padding-top:3.7px;"><span style="display:inline-block;transform:scaleX(0.912);transform-origin:0 50%;width:70.65px">Analog In</span></div><div class="b " style="left:319.5px;top:428.1px;width:100.0px;height:30.4px;background:#FBD5B5;color:#111;border-radius:6px;font-size:17px;padding-top:3.7px;"><span style="display:inline-block;transform:scaleX(0.912);transform-origin:0 50%;width:70.65px">Analog In</span></div><div class="b " style="left:319.5px;top:454.8px;width:100.0px;height:30.4px;background:#FBD5B5;color:#111;border-radius:6px;font-size:17px;padding-top:3.7px;"><span style="display:inline-block;transform:scaleX(0.912);transform-origin:0 50%;width:70.65px">Analog In</span></div><div class="b " style="left:319.5px;top:481.4px;width:100.0px;height:30.4px;background:#FBD5B5;color:#111;border-radius:6px;font-size:17px;padding-top:3.7px;"><span style="display:inline-block;transform:scaleX(0.912);transform-origin:0 50%;width:70.65px">Analog In</span></div><div class="b " style="left:319.5px;top:510.5px;width:100.0px;height:52.5px;background:#E46C0A;color:#fff;border-radius:10px;font-size:18.3px;padding-top:3.6px;"><div class="ml" style="line-height:23.7px"><span style="display:inline-block;transform:scaleX(0.840);transform-origin:0 50%;width:67.49px">I2C2 SCL</span><br><span style="display:inline-block;transform:scaleX(0.887);transform-origin:0 50%;width:73.03px">I2C2 SDA</span></div></div><div class="b " style="left:327.0px;top:161.3px;width:85.0px;height:29.7px;background:#0000E6;color:#F0F060;border-radius:6px;font-size:17px;padding-top:3.7px;"><span style="display:inline-block;transform:scaleX(0.848);transform-origin:0 50%;width:36.86px">LED1</span></div><div class="b " style="left:434.5px;top:268.3px;width:99.5px;height:30.4px;background:#7030A0;color:#fff;border-radius:6px;font-size:17px;padding-top:3.7px;"><span style="display:inline-block;transform:scaleX(1.026);transform-origin:0 50%;width:66.85px">PWM2/2</span></div><div class="b " style="left:434.5px;top:294.9px;width:99.5px;height:30.4px;background:#7030A0;color:#fff;border-radius:6px;font-size:17px;padding-top:3.7px;"><span style="display:inline-block;transform:scaleX(1.026);transform-origin:0 50%;width:66.85px">PWM2/3</span></div><div class="b " style="left:434.5px;top:321.6px;width:99.5px;height:30.4px;background:#7030A0;color:#fff;border-radius:6px;font-size:17px;padding-top:3.7px;"><span style="display:inline-block;transform:scaleX(1.026);transform-origin:0 50%;width:66.85px">PWM2/4</span></div><div class="b " style="left:434.5px;top:401.5px;width:99.5px;height:30.4px;background:#7030A0;color:#fff;border-radius:6px;font-size:17px;padding-top:3.7px;"><span style="display:inline-block;transform:scaleX(1.026);transform-origin:0 50%;width:66.85px">PWM3/1</span></div><div class="b " style="left:434.5px;top:428.1px;width:99.5px;height:30.4px;background:#7030A0;color:#fff;border-radius:6px;font-size:17px;padding-top:3.7px;"><span style="display:inline-block;transform:scaleX(1.026);transform-origin:0 50%;width:66.85px">PWM3/2</span></div><div class="b " style="left:434.5px;top:454.8px;width:99.5px;height:30.4px;background:#7030A0;color:#fff;border-radius:6px;font-size:17px;padding-top:3.7px;"><span style="display:inline-block;transform:scaleX(1.026);transform-origin:0 50%;width:66.85px">PWM3/3</span></div><div class="b " style="left:434.5px;top:481.4px;width:99.5px;height:30.4px;background:#7030A0;color:#fff;border-radius:6px;font-size:17px;padding-top:3.7px;"><span style="display:inline-block;transform:scaleX(1.026);transform-origin:0 50%;width:66.85px">PWM3/4</span></div><div class="b " style="left:434.5px;top:508.1px;width:99.5px;height:30.4px;background:#7030A0;color:#fff;border-radius:6px;font-size:17px;padding-top:3.7px;"><span style="display:inline-block;transform:scaleX(1.026);transform-origin:0 50%;width:66.85px">PWM2/3</span></div><div class="b " style="left:434.5px;top:534.7px;width:99.5px;height:30.4px;background:#7030A0;color:#fff;border-radius:6px;font-size:17px;padding-top:3.7px;"><span style="display:inline-block;transform:scaleX(1.026);transform-origin:0 50%;width:66.85px">PWM2/4</span></div><div class="b " style="left:1156.5px;top:135.1px;width:84.5px;height:30.4px;background:#C80000;color:#fff;border-radius:6px;font-size:17px;padding-top:3.7px;"><span style="display:inline-block;transform:scaleX(0.954);transform-origin:0 50%;width:42.82px">+3.3V</span></div><div class="b " style="left:1156.5px;top:161.7px;width:84.5px;height:30.4px;background:#C80000;color:#fff;border-radius:6px;font-size:17px;padding-top:3.7px;"><span style="display:inline-block;transform:scaleX(0.918);transform-origin:0 50%;width:34.67px">GND</span></div><div class="b " style="left:1156.5px;top:188.4px;width:84.5px;height:30.4px;background:#C80000;color:#fff;border-radius:6px;font-size:17px;padding-top:3.7px;"><span style="display:inline-block;transform:scaleX(0.940);transform-origin:0 50%;width:28.89px">+5V</span></div><div class="b " style="left:1156.5px;top:215.0px;width:84.5px;height:30.4px;background:#0070C0;color:#fff;border-radius:6px;font-size:17px;padding-top:3.7px;"><span style="display:inline-block;transform:scaleX(0.888);transform-origin:0 50%;width:37.76px">PB_9</span></div><div class="b " style="left:1156.5px;top:241.7px;width:84.5px;height:30.4px;background:#0070C0;color:#fff;border-radius:6px;font-size:17px;padding-top:3.7px;"><span style="display:inline-block;transform:scaleX(0.888);transform-origin:0 50%;width:37.76px">PB_8</span></div><div class="b " style="left:1156.5px;top:268.3px;width:84.5px;height:30.4px;background:#0070C0;color:#fff;border-radius:6px;font-size:17px;padding-top:3.7px;"><span style="display:inline-block;transform:scaleX(0.888);transform-origin:0 50%;width:37.76px">PB_7</span></div><div class="b " style="left:1156.5px;top:294.9px;width:84.5px;height:30.4px;background:#0070C0;color:#fff;border-radius:6px;font-size:17px;padding-top:3.7px;"><span style="display:inline-block;transform:scaleX(0.888);transform-origin:0 50%;width:37.76px">PB_6</span></div><div class="b " style="left:1156.5px;top:321.6px;width:84.5px;height:30.4px;background:#0070C0;color:#fff;border-radius:6px;font-size:17px;padding-top:3.7px;"><span style="display:inline-block;transform:scaleX(0.888);transform-origin:0 50%;width:37.76px">PB_5</span></div><div class="b " style="left:1156.5px;top:348.2px;width:84.5px;height:30.4px;background:#0070C0;color:#fff;border-radius:6px;font-size:17px;padding-top:3.7px;"><span style="display:inline-block;transform:scaleX(0.888);transform-origin:0 50%;width:37.76px">PB_4</span></div><div class="b " style="left:1156.5px;top:374.9px;width:84.5px;height:30.4px;background:#0070C0;color:#fff;border-radius:6px;font-size:17px;padding-top:3.7px;"><span style="display:inline-block;transform:scaleX(0.888);transform-origin:0 50%;width:37.76px">PB_3</span></div><div class="b " style="left:1156.5px;top:401.5px;width:84.5px;height:30.4px;background:#0070C0;color:#fff;border-radius:6px;font-size:17px;padding-top:3.7px;"><span style="display:inline-block;transform:scaleX(0.940);transform-origin:0 50%;width:47.70px">PA_15</span></div><div class="b " style="left:1156.5px;top:428.1px;width:84.5px;height:30.4px;background:#0070C0;color:#fff;border-radius:6px;font-size:17px;padding-top:3.7px;"><span style="display:inline-block;transform:scaleX(0.940);transform-origin:0 50%;width:47.70px">PA_12</span></div><div class="b " style="left:1156.5px;top:454.8px;width:84.5px;height:30.4px;background:#0070C0;color:#fff;border-radius:6px;font-size:17px;padding-top:3.7px;"><span style="display:inline-block;transform:scaleX(0.958);transform-origin:0 50%;width:47.70px">PA_11</span></div><div class="b " style="left:1156.5px;top:481.4px;width:84.5px;height:30.4px;background:#0070C0;color:#fff;border-radius:6px;font-size:17px;padding-top:3.7px;"><span style="display:inline-block;transform:scaleX(0.940);transform-origin:0 50%;width:47.70px">PA_10</span></div><div class="b " style="left:1156.5px;top:508.1px;width:84.5px;height:30.4px;background:#0070C0;color:#fff;border-radius:6px;font-size:17px;padding-top:3.7px;"><span style="display:inline-block;transform:scaleX(0.935);transform-origin:0 50%;width:38.57px">PA_9</span></div><div class="b " style="left:1156.5px;top:534.7px;width:84.5px;height:30.4px;background:#0070C0;color:#fff;border-radius:6px;font-size:17px;padding-top:3.7px;"><span style="display:inline-block;transform:scaleX(0.935);transform-origin:0 50%;width:38.57px">PA_8</span></div><div class="b " style="left:1156.5px;top:561.3px;width:84.5px;height:30.4px;background:#0070C0;color:#fff;border-radius:6px;font-size:17px;padding-top:3.7px;"><span style="display:inline-block;transform:scaleX(0.902);transform-origin:0 50%;width:46.89px">PB_15</span></div><div class="b " style="left:1156.5px;top:588.0px;width:84.5px;height:30.4px;background:#0070C0;color:#fff;border-radius:6px;font-size:17px;padding-top:3.7px;"><span style="display:inline-block;transform:scaleX(0.902);transform-origin:0 50%;width:46.89px">PB_14</span></div><div class="b " style="left:1156.5px;top:614.6px;width:84.5px;height:30.4px;background:#0070C0;color:#fff;border-radius:6px;font-size:17px;padding-top:3.7px;"><span style="display:inline-block;transform:scaleX(0.902);transform-origin:0 50%;width:46.89px">PB_13</span></div><div class="b " style="left:1156.5px;top:641.3px;width:84.5px;height:30.4px;background:#0070C0;color:#fff;border-radius:6px;font-size:17px;padding-top:3.7px;"><span style="display:inline-block;transform:scaleX(0.902);transform-origin:0 50%;width:46.89px">PB_12</span></div><div class="b " style="left:1057.0px;top:215.0px;width:83.5px;height:30.4px;background:#76923C;color:#fff;border-radius:6px;font-size:17px;padding-top:3.7px;"><span style="display:inline-block;transform:scaleX(0.949);transform-origin:0 50%;width:29.59px">D14</span></div><div class="b " style="left:1057.0px;top:241.7px;width:83.5px;height:30.4px;background:#76923C;color:#fff;border-radius:6px;font-size:17px;padding-top:3.7px;"><span style="display:inline-block;transform:scaleX(0.949);transform-origin:0 50%;width:29.59px">D15</span></div><div class="b " style="left:1057.0px;top:294.9px;width:83.5px;height:30.4px;background:#76923C;color:#fff;border-radius:6px;font-size:17px;padding-top:3.7px;"><span style="display:inline-block;transform:scaleX(0.949);transform-origin:0 50%;width:29.59px">D10</span></div><div class="b " style="left:1057.0px;top:321.6px;width:83.5px;height:30.4px;background:#76923C;color:#fff;border-radius:6px;font-size:17px;padding-top:3.7px;"><span style="display:inline-block;transform:scaleX(0.942);transform-origin:0 50%;width:20.47px">D4</span></div><div class="b " style="left:1057.0px;top:348.2px;width:83.5px;height:30.4px;background:#76923C;color:#fff;border-radius:6px;font-size:17px;padding-top:3.7px;"><span style="display:inline-block;transform:scaleX(0.942);transform-origin:0 50%;width:20.47px">D5</span></div><div class="b " style="left:1057.0px;top:374.9px;width:83.5px;height:30.4px;background:#76923C;color:#fff;border-radius:6px;font-size:17px;padding-top:3.7px;"><span style="display:inline-block;transform:scaleX(0.942);transform-origin:0 50%;width:20.47px">D3</span></div><div class="b " style="left:1057.0px;top:481.4px;width:83.5px;height:30.4px;background:#76923C;color:#fff;border-radius:6px;font-size:17px;padding-top:3.7px;"><span style="display:inline-block;transform:scaleX(0.942);transform-origin:0 50%;width:20.47px">D2</span></div><div class="b " style="left:1057.0px;top:508.1px;width:83.5px;height:30.4px;background:#76923C;color:#fff;border-radius:6px;font-size:17px;padding-top:3.7px;"><span style="display:inline-block;transform:scaleX(0.942);transform-origin:0 50%;width:20.47px">D8</span></div><div class="b " style="left:1057.0px;top:534.7px;width:83.5px;height:30.4px;background:#76923C;color:#fff;border-radius:6px;font-size:17px;padding-top:3.7px;"><span style="display:inline-block;transform:scaleX(0.942);transform-origin:0 50%;width:20.47px">D7</span></div><div class="b " style="left:1057.0px;top:430.4px;width:83.5px;height:52.2px;background:#E46C0A;color:#fff;border-radius:10px;font-size:18.3px;padding-top:3.6px;"><div class="ml" style="line-height:23.7px"><span style="display:inline-block;transform:scaleX(0.867);transform-origin:0 50%;width:59.96px">USB DP</span><br><span style="display:inline-block;transform:scaleX(0.923);transform-origin:0 50%;width:66.63px">USB DM</span></div></div><div class="b " style="left:942.0px;top:216.0px;width:99.0px;height:53.3px;background:#D0009A;color:#fff;border-radius:10px;font-size:18.3px;padding-top:7px;"><div class="ml" style="line-height:23.7px"><span style="display:inline-block;transform:scaleX(0.898);transform-origin:0 50%;width:71.21px">CAN1 TD</span><br><span style="display:inline-block;transform:scaleX(0.892);transform-origin:0 50%;width:72.54px">CAN1 RD</span></div></div><div class="b " style="left:942.0px;top:271.4px;width:99.0px;height:52.3px;background:#FFFF00;color:#000;border-radius:10px;font-size:18.3px;padding-top:3.6px;"><div class="ml" style="line-height:23.7px"><span style="display:inline-block;transform:scaleX(0.897);transform-origin:0 50%;width:81.20px">Serial1 RX</span><br><span style="display:inline-block;transform:scaleX(0.903);transform-origin:0 50%;width:79.87px">Serial1 TX</span></div></div><div class="b " style="left:942.0px;top:324.6px;width:99.0px;height:103.8px;background:#92D050;color:#000;border-radius:12px;font-size:18.3px;padding-top:5.5px;"><div class="ml" style="line-height:24px"><span style="display:inline-block;transform:scaleX(0.915);transform-origin:0 50%;width:83.75px">SPI1 MOSI</span><br><span style="display:inline-block;transform:scaleX(0.915);transform-origin:0 50%;width:83.75px">SPI1 MISO</span><br><span style="display:inline-block;transform:scaleX(0.831);transform-origin:0 50%;width:69.30px">SPI1 SCK</span><br><span style="display:inline-block;transform:scaleX(0.854);transform-origin:0 50%;width:70.39px">SPI1 NSS</span></div></div><div class="b " style="left:942.0px;top:430.4px;width:99.0px;height:52.2px;background:#D0009A;color:#fff;border-radius:10px;font-size:18.3px;padding-top:3.6px;"><div class="ml" style="line-height:23.7px"><span style="display:inline-block;transform:scaleX(0.898);transform-origin:0 50%;width:71.21px">CAN1 TD</span><br><span style="display:inline-block;transform:scaleX(0.892);transform-origin:0 50%;width:72.54px">CAN1 RD</span></div></div><div class="b " style="left:942.0px;top:484.0px;width:99.0px;height:52.2px;background:#FFFF00;color:#000;border-radius:10px;font-size:18.3px;padding-top:3.6px;"><div class="ml" style="line-height:23.7px"><span style="display:inline-block;transform:scaleX(0.897);transform-origin:0 50%;width:81.20px">Serial1 RX</span><br><span style="display:inline-block;transform:scaleX(0.903);transform-origin:0 50%;width:79.87px">Serial1 TX</span></div></div><div class="b " style="left:942.0px;top:563.4px;width:99.0px;height:108.1px;background:#92D050;color:#000;border-radius:12px;font-size:18.3px;padding-top:3.6px;"><div class="ml" style="line-height:23.7px"><span style="display:inline-block;transform:scaleX(0.915);transform-origin:0 50%;width:83.75px">SPI2 MOSI</span><br><span style="display:inline-block;transform:scaleX(0.915);transform-origin:0 50%;width:83.75px">SPI2 MISO</span><br><span style="display:inline-block;transform:scaleX(0.831);transform-origin:0 50%;width:69.30px">SPI2 SCK</span><br><span style="display:inline-block;transform:scaleX(0.854);transform-origin:0 50%;width:70.39px">SPI2 NSS</span></div></div><div class="b " style="left:825.0px;top:216.3px;width:99.0px;height:53.2px;background:#E46C0A;color:#fff;border-radius:10px;font-size:18.3px;padding-top:3.6px;"><div class="ml" style="line-height:23.7px"><span style="display:inline-block;transform:scaleX(0.887);transform-origin:0 50%;width:73.03px">I2C1 SDA</span><br><span style="display:inline-block;transform:scaleX(0.840);transform-origin:0 50%;width:67.49px">I2C1 SCL</span></div></div><div class="b " style="left:825.0px;top:271.0px;width:99.0px;height:51.3px;background:#E46C0A;color:#fff;border-radius:10px;font-size:18.3px;padding-top:3.6px;"><div class="ml" style="line-height:23.7px"><span style="display:inline-block;transform:scaleX(0.887);transform-origin:0 50%;width:73.03px">I2C1 SDA</span><br><span style="display:inline-block;transform:scaleX(0.840);transform-origin:0 50%;width:67.49px">I2C1 SCL</span></div></div><div class="b " style="left:825.0px;top:321.6px;width:99.0px;height:30.4px;background:#7030A0;color:#fff;border-radius:6px;font-size:17px;padding-top:3.7px;"><span style="display:inline-block;transform:scaleX(1.026);transform-origin:0 50%;width:66.85px">PWM3/2</span></div><div class="b " style="left:825.0px;top:348.2px;width:99.0px;height:30.4px;background:#7030A0;color:#fff;border-radius:6px;font-size:17px;padding-top:3.7px;"><span style="display:inline-block;transform:scaleX(1.026);transform-origin:0 50%;width:66.85px">PWM3/1</span></div><div class="b " style="left:825.0px;top:374.9px;width:99.0px;height:30.4px;background:#7030A0;color:#fff;border-radius:6px;font-size:17px;padding-top:3.7px;"><span style="display:inline-block;transform:scaleX(1.026);transform-origin:0 50%;width:66.85px">PWM2/2</span></div><div class="b " style="left:825.0px;top:401.5px;width:99.0px;height:30.4px;background:#7030A0;color:#fff;border-radius:6px;font-size:17px;padding-top:3.7px;"><span style="display:inline-block;transform:scaleX(1.026);transform-origin:0 50%;width:66.85px">PWM2/1</span></div><div class="b " style="left:825.0px;top:454.8px;width:99.0px;height:30.4px;background:#7030A0;color:#fff;border-radius:6px;font-size:17px;padding-top:3.7px;"><span style="display:inline-block;transform:scaleX(1.026);transform-origin:0 50%;width:66.85px">PWM1/4</span></div><div class="b " style="left:825.0px;top:481.4px;width:99.0px;height:30.4px;background:#7030A0;color:#fff;border-radius:6px;font-size:17px;padding-top:3.7px;"><span style="display:inline-block;transform:scaleX(1.026);transform-origin:0 50%;width:66.85px">PWM1/3</span></div><div class="b " style="left:825.0px;top:508.1px;width:99.0px;height:30.4px;background:#7030A0;color:#fff;border-radius:6px;font-size:17px;padding-top:3.7px;"><span style="display:inline-block;transform:scaleX(1.026);transform-origin:0 50%;width:66.85px">PWM1/2</span></div><div class="b " style="left:825.0px;top:534.7px;width:99.0px;height:30.4px;background:#7030A0;color:#fff;border-radius:6px;font-size:17px;padding-top:3.7px;"><span style="display:inline-block;transform:scaleX(1.026);transform-origin:0 50%;width:66.85px">PWM1/1</span></div><div class="b " style="left:825.0px;top:561.3px;width:99.0px;height:30.4px;background:#7030A0;color:#fff;border-radius:6px;font-size:17px;padding-top:3.7px;"><span style="display:inline-block;transform:scaleX(1.016);transform-origin:0 50%;width:78.71px">PWM1/3N</span></div><div class="b " style="left:825.0px;top:588.0px;width:99.0px;height:30.4px;background:#7030A0;color:#fff;border-radius:6px;font-size:17px;padding-top:3.7px;"><span style="display:inline-block;transform:scaleX(1.016);transform-origin:0 50%;width:78.71px">PWM1/2N</span></div><div class="b " style="left:825.0px;top:614.6px;width:99.0px;height:30.4px;background:#7030A0;color:#fff;border-radius:6px;font-size:17px;padding-top:3.7px;"><span style="display:inline-block;transform:scaleX(1.016);transform-origin:0 50%;width:78.71px">PWM1/1N</span></div>
</body></html>
